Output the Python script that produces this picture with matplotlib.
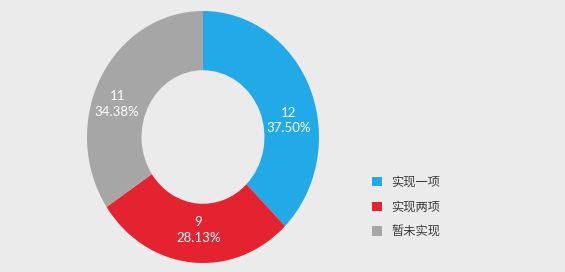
import matplotlib
matplotlib.use("Agg")
from decimal import Decimal, ROUND_HALF_UP
from matplotlib import pyplot as plt

# data
labels = ["实现一项", "实现两项", "暂未实现"]
counts = [12, 9, 11]
colors = ["#22a9e8", "#e52330", "#a6a6a6"]

plt.rcParams['font.family'] = ['Noto Sans CJK SC', 'DejaVu Sans']

W, H = 565, 272
fig = plt.figure(figsize=(W / 100, H / 100), dpi=100)
fig.patch.set_facecolor("#ebebeb")

# the donut in the picture is slightly stretched vertically
ax = fig.add_axes([87 / W, 9 / H, 232 / W, 252 / H])
total = sum(counts)

wedges, _ = ax.pie(
    counts, colors=colors, startangle=90, counterclock=False, radius=1.0,
    wedgeprops=dict(width=0.47, linewidth=0))
ax.set_aspect("auto")
ax.set_xlim(-1, 1)
ax.set_ylim(-1, 1)
ax.axis("off")

# label spots inside the ring, as placed in the original
label_pos = [(0.74, 0.13), (-0.04, -0.74), (-0.74, 0.26)]
for n, (x, y) in zip(counts, label_pos):
    pct = Decimal(n * 100) / Decimal(total)
    pct = pct.quantize(Decimal("0.01"), rounding=ROUND_HALF_UP)
    ax.text(x, y, "%d\n%s%%" % (n, pct), ha="center", va="center",
            color="white", fontsize=9.5, linespacing=1.35,
            family=["Lato", "DejaVu Sans"])

fig.legend(wedges, labels, loc="upper left", bbox_to_anchor=(372 / W, 1 - 176 / H),
           frameon=False, fontsize=8.8, handlelength=0.8, handleheight=0.8,
           handletextpad=0.75, labelspacing=0.95, borderpad=0, borderaxespad=0,
           labelcolor="#3a3a3a")

fig.savefig("out.png", dpi=100, facecolor=fig.get_facecolor())
